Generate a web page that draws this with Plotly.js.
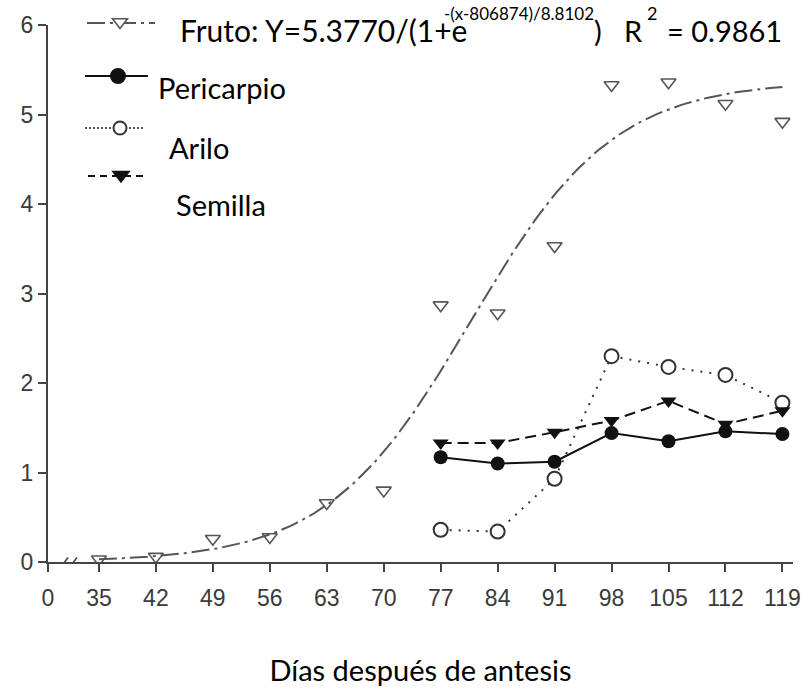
<!DOCTYPE html>
<html>
<head>
<meta charset="utf-8">
<script src="https://cdn.plot.ly/plotly-3.0.1.min.js"></script>
<style>
  html, body { margin: 0; padding: 0; background: #fff; }
  #chart { width: 809px; height: 696px; }
</style>
</head>
<body>
<div id="chart"></div>
<script>
// Días después de antesis (fruto sampled from day 35, parts from day 77)
const diasFruto = [35, 42, 49, 56, 63, 70, 77, 84, 91, 98, 105, 112, 119];
const fruto     = [0.03, 0.06, 0.26, 0.28, 0.66, 0.80, 2.87, 2.78, 3.53, 5.33, 5.36, 5.12, 4.92];

const diasPartes = [77, 84, 91, 98, 105, 112, 119];
const pericarpio = [1.17, 1.10, 1.12, 1.44, 1.35, 1.46, 1.43];
const arilo      = [0.36, 0.34, 0.93, 2.30, 2.18, 2.09, 1.78];
const semilla    = [1.33, 1.33, 1.45, 1.58, 1.80, 1.54, 1.69];

// Logistic fit for the whole fruit, parameters as reported in the key
const fitA = 5.3770, fitX0 = 80.6874, fitB = 8.8102;

// Axis labels; "0" sits just after the axis break
const xTickLabels = ['0', '35', '42', '49', '56', '63', '70', '77', '84', '91', '98', '105', '112', '119'];
const yTickValues = [0, 1, 2, 3, 4, 5, 6];

// Fruto key text, split into baseline runs and raised exponents
const frutoBase1 = 'Fruto: Y=5.3770/(1+e';
const frutoExp1  = '-(x-806874)/8.8102';
const frutoBase2 = ')   R';
const frutoExp2  = '2';
const frutoBase3 = '= 0.9861';
const labelPericarpio = 'Pericarpio';
const labelArilo = 'Arilo';
const labelSemilla = 'Semilla';
const xTitle = 'Días después de antesis';

// Break position on the day scale where the "0" tick is drawn
const BREAK_DAY = 28.74;

const fitX = [];
const fitY = [];
for (let d = diasFruto[0]; d <= diasFruto[diasFruto.length - 1] + 1e-9; d += 0.5) {
  fitX.push(d);
  fitY.push(fitA / (1 + Math.exp(-(d - fitX0) / fitB)));
}

const GRAY = '#555555';
const INK = '#111111';
const FIT_DASH = '18px,5px,3px,5px';
const ARILO_DASH = '2px,7px';
const SEMILLA_DASH = '11px,6px';

const traces = [
  {
    x: fitX, y: fitY, type: 'scatter', mode: 'lines', name: 'Ajuste fruto',
    line: { color: GRAY, width: 2, dash: FIT_DASH }, hoverinfo: 'skip'
  },
  {
    x: diasFruto, y: fruto, type: 'scatter', mode: 'markers', name: 'Fruto',
    marker: { symbol: 'triangle-down-open', size: 13, color: GRAY, line: { width: 1.6, color: GRAY } }
  },
  {
    x: diasPartes, y: pericarpio, type: 'scatter', mode: 'lines+markers', name: labelPericarpio,
    line: { color: INK, width: 2 },
    marker: { symbol: 'circle', size: 14, color: INK }
  },
  {
    x: diasPartes, y: arilo, type: 'scatter', mode: 'lines+markers', name: labelArilo,
    line: { color: '#333', width: 2, dash: ARILO_DASH },
    marker: { symbol: 'circle', size: 14, color: '#fff', line: { color: '#333', width: 2 } }
  },
  {
    x: diasPartes, y: semilla, type: 'scatter', mode: 'lines+markers', name: labelSemilla,
    line: { color: INK, width: 2, dash: SEMILLA_DASH },
    marker: { symbol: 'triangle-down', size: 14, color: INK }
  }
];

// paper coordinates from pixel positions in the plot frame (left 48, right 793, top 25, bottom 562)
const PL = 48, PR = 793, PT = 25, PB = 562;
const px = v => (v - PL) / (PR - PL);
const py = v => (PB - v) / (PB - PT);

// key samples: line segment + symbol
function keyLine(x0, x1, y, color, dash) {
  return { type: 'line', xref: 'paper', yref: 'paper', x0: px(x0), x1: px(x1), y0: py(y), y1: py(y),
           line: { color: color, width: 2, dash: dash } };
}
function keyCircle(cx, cy, r, fill, color) {
  return { type: 'circle', xref: 'paper', yref: 'paper',
           x0: px(cx - r), x1: px(cx + r), y0: py(cy + r), y1: py(cy - r),
           fillcolor: fill, line: { color: color, width: 2 } };
}
function keyTriangle(cx, cy, r, fill, color) {
  const rt = r * 2 / Math.sqrt(3), r2 = r / 2;
  const pts = [[cx - rt, cy - r2], [cx + rt, cy - r2], [cx, cy + r]];
  const path = 'M' + pts.map(p => px(p[0]) + ',' + py(p[1])).join(' L') + ' Z';
  return { type: 'path', xref: 'paper', yref: 'paper', path: path,
           fillcolor: fill, line: { color: color, width: 1.6 } };
}

const TEXT_FAMILY = 'Lato, Carlito, sans-serif';
const tickFont = { family: 'Liberation Sans, Arial, sans-serif', size: 23, color: '#3a3a3a' };

function keyText(text, x, y, size) {
  return { text: text, xref: 'paper', yref: 'paper', x: px(x), y: py(y),
           xanchor: 'left', yanchor: 'middle', showarrow: false,
           font: { family: TEXT_FAMILY, size: size, color: '#000000' } };
}

const layout = {
  width: 809, height: 696,
  margin: { l: PL, r: 809 - PR, t: PT, b: 696 - PB },
  paper_bgcolor: '#fff', plot_bgcolor: '#fff',
  showlegend: false,
  xaxis: {
    range: [BREAK_DAY, 120.3],
    tickmode: 'array',
    tickvals: [BREAK_DAY].concat(diasFruto),
    ticktext: xTickLabels,
    showline: true, linecolor: '#444', linewidth: 2,
    ticks: 'outside', ticklen: 8, tickwidth: 2, tickcolor: '#444',
    tickfont: tickFont, ticklabelstandoff: 6,
    showgrid: false, zeroline: false,
    title: { text: xTitle, font: { family: TEXT_FAMILY, size: 29, color: '#000000' }, standoff: 51 }
  },
  yaxis: {
    range: [0, 6],
    tickmode: 'array', tickvals: yTickValues,
    showline: true, linecolor: '#444', linewidth: 2,
    ticks: 'outside', ticklen: 8, tickwidth: 2, tickcolor: '#444',
    tickfont: tickFont, ticklabelstandoff: 0,
    showgrid: false, zeroline: false
  },
  annotations: [
    keyText(frutoBase1, 178, 30, 30),
    keyText(frutoExp1, 442, 13, 17),
    keyText(frutoBase2, 592, 30, 29),
    keyText(frutoExp2, 645, 13, 18),
    keyText(frutoBase3, 665, 30, 29),
    keyText(labelPericarpio, 156, 87, 29),
    keyText(labelArilo, 167, 147, 29),
    keyText(labelSemilla, 174, 204, 29)
  ],
  shapes: [
    // axis break marks
    { type: 'line', xref: 'x', yref: 'y', x0: 30.2, y0: -0.07, x1: 31.2, y1: 0.05, line: { color: '#444', width: 1.6 } },
    { type: 'line', xref: 'x', yref: 'y', x0: 31.3, y0: -0.07, x1: 32.3, y1: 0.05, line: { color: '#444', width: 1.6 } },
    // key: Fruto
    keyLine(87, 155, 23, GRAY, FIT_DASH),
    keyTriangle(120, 22, 6.5, '#fff', GRAY),
    // key: Pericarpio
    keyLine(85, 148, 76, INK, 'solid'),
    keyCircle(118, 76, 7, INK, INK),
    // key: Arilo
    keyLine(85, 145, 128, '#555', '2px,2px'),
    keyCircle(120, 128, 6.5, '#fff', '#333'),
    // key: Semilla
    keyLine(88, 148, 176, INK, '7px,5px'),
    keyTriangle(121, 175, 7, INK, INK)
  ]
};

Plotly.newPlot('chart', traces, layout, { displayModeBar: false, staticPlot: true });
</script>
</body>
</html>
